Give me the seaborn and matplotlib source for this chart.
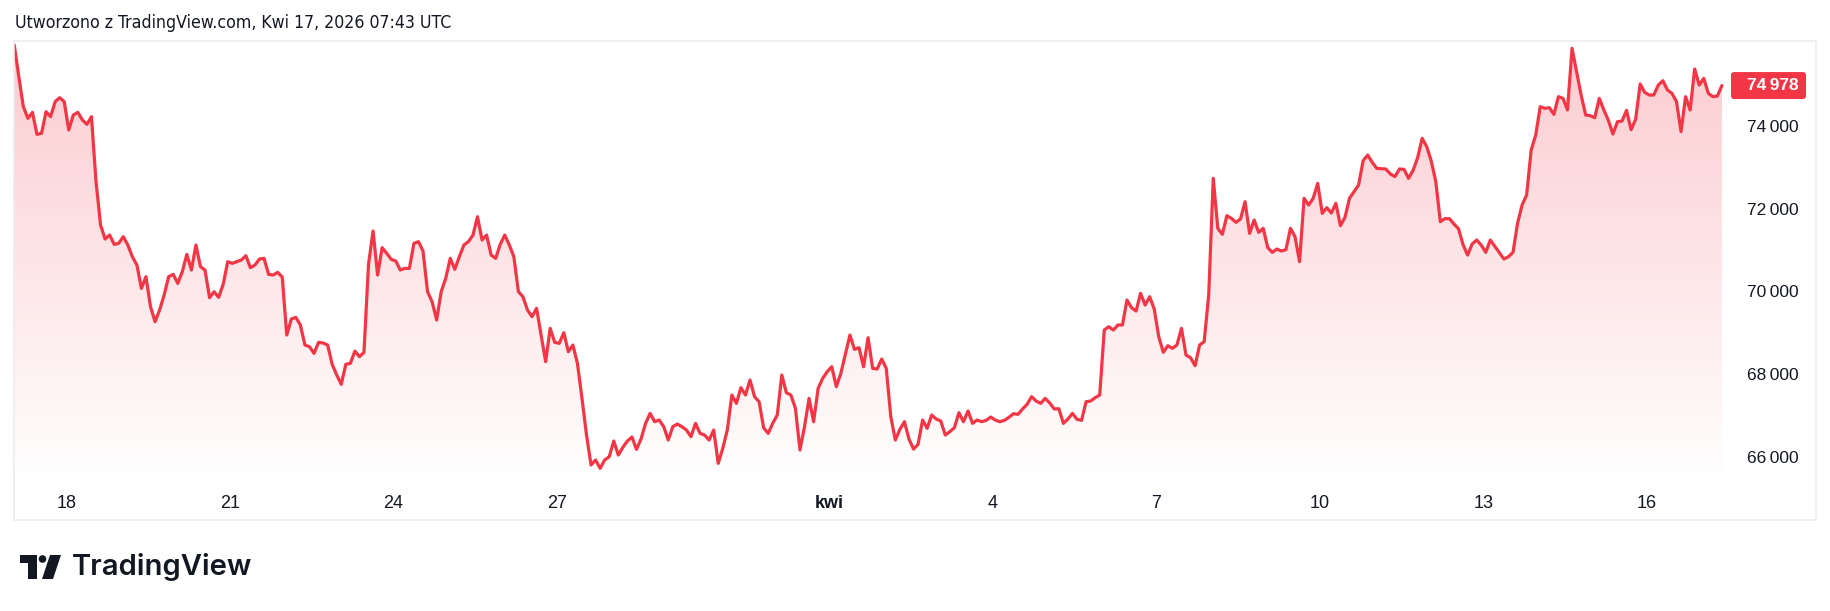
import numpy as np
import pandas as pd
import matplotlib
matplotlib.use("Agg")
import matplotlib.pyplot as plt
import seaborn as sns
from matplotlib.colors import to_rgb
from matplotlib.patches import Rectangle, PathPatch, Polygon, Circle, FancyBboxPatch
from matplotlib import font_manager

# ---------------- data (BTC price, 2-hour samples) ----------------
prices = [
    75958, 75192, 74467, 74185, 74330, 73798, 73822, 74346, 74225, 74588,
    74685, 74588, 73903, 74266, 74330, 74145, 74040, 74225, 72654, 71606,
    71267, 71364, 71138, 71163, 71324, 71122, 70840, 70639, 70074, 70356,
    69631, 69268, 69551, 69913, 70356, 70413, 70195, 70477, 70897, 70518,
    71122, 70598, 70518, 69849, 69994, 69857, 70171, 70719, 70679, 70719,
    70760, 70864, 70574, 70639, 70784,
    70800, 70413, 70397, 70461, 70349, 68946, 69333, 69373, 69188, 68704,
    68664, 68503, 68769, 68753, 68704, 68237, 67979, 67753, 68237, 68261,
    68559, 68422, 68527, 70655, 71461, 70397, 71058, 70921, 70776, 70735,
    70518, 70558, 70558, 71163, 71203, 70977, 69994, 69752, 69309, 69994,
    70316, 70800, 70534, 70840, 71122, 71203, 71364, 71807, 71243, 71364,
    70880, 70800, 71138, 71364,
    71122, 70840, 69994, 69873, 69551, 69389, 69591, 68946, 68301, 69107,
    68769, 68745, 69002, 68543, 68704, 68261, 67415, 66528, 65803, 65924,
    65722, 65924, 66004, 66383, 66044, 66230, 66383, 66480, 66181, 66431,
    66810, 67052, 66850, 66891, 66730, 66407, 66730, 66794, 66730, 66649,
    66488, 66810, 66568, 66528, 66407, 66649, 65843, 66206, 66649, 67495,
    67294, 67673, 67495,
    67858, 67455, 67334, 66705, 66568, 66810, 67012, 67979, 67552, 67495,
    67173, 66165, 66730, 67415, 66850, 67656, 67898, 68059, 68180, 67697,
    68019, 68478, 68946, 68599, 68640, 68180, 68882, 68140, 68124, 68366,
    68140, 66971, 66407, 66665, 66850, 66431, 66189, 66302, 66891, 66689,
    67012, 66915, 66867, 66528, 66609, 66705, 67068, 66850, 67108, 66810,
    66891, 66850, 66883, 66963,
    66891, 66850, 66883, 66955, 67044, 67028, 67157, 67269, 67455, 67350,
    67294, 67415, 67302, 67157, 67165, 66810, 66915, 67052, 66907, 66883,
    67334, 67350, 67431, 67495, 69067, 69147, 69067, 69188, 69188, 69792,
    69607, 69526, 69954, 69671, 69873, 69575, 68906, 68527, 68688, 68624,
    68704, 69107, 68462, 68398, 68204, 68704, 68785, 69913, 72734, 71525,
    71380, 71832, 71767, 71670,
    71751, 72170, 71404, 71727, 71428, 71525, 71058, 70945, 71026, 70977,
    71009, 71525, 71324, 70719, 72251, 72089, 72251, 72613, 71888, 72025,
    71896, 72130, 71590, 71791, 72251, 72412, 72573, 73161, 73298, 73121,
    72976, 72968, 72960, 72839, 72775, 72960, 72952, 72734, 72928, 73234,
    73701, 73500, 73153, 72654, 71686, 71759, 71759, 71630, 71517, 71130,
    70880, 71146, 71243, 71122,
    70945, 71243, 71090, 70937, 70784, 70840, 70945, 71646, 72089, 72331,
    73419, 73782, 74467, 74427, 74443, 74282, 74709, 74669, 74387, 75878,
    75313, 74749, 74266, 74249, 74201, 74669, 74387, 74137, 73806, 74104,
    74120, 74378, 73911, 74161, 75015, 74814, 74749, 74749, 74991, 75096,
    74870, 74790, 74588, 73863, 74709, 74387, 75378, 74991, 75152, 74790,
    74709, 74725, 74978,
]
start_time = "2026-03-17 01:00"
sample_freq = "2h"
tick_dates = ["2026-03-18", "2026-03-21", "2026-03-24", "2026-03-27", "2026-04-01",
              "2026-04-04", "2026-04-07", "2026-04-10", "2026-04-13", "2026-04-16"]
tick_labels = ["18", "21", "24", "27", "kwi", "4", "7", "10", "13", "16"]
price_ticks = [66000, 68000, 70000, 72000, 74000]
title_text = "Utworzono z TradingView.com, Kwi 17, 2026 07:43 UTC"

# ---------------- prepare ----------------
origin = pd.Timestamp("2026-03-18")
times = pd.date_range(start_time, periods=len(prices), freq=sample_freq)
t_days = ((times - origin) / pd.Timedelta(days=1)).to_numpy()
df = pd.DataFrame({"t": t_days, "price": prices})
tick_pos = ((pd.to_datetime(tick_dates) - origin) / pd.Timedelta(days=1)).to_numpy()
last_price = prices[-1]

def fmt(v):
    return f"{v // 1000}\u2009{v % 1000:03d}"

fonts = font_manager.fontManager.ttflist
installed = {f.name for f in fonts}
NARROW = "Liberation Sans Narrow" if "Liberation Sans Narrow" in installed else "Liberation Sans"
has_condensed = any(f.name == "DejaVu Sans" and f.stretch == "condensed" for f in fonts)

RED = "#F23645"
TXT = "#131722"
W, H = 1830, 611

sns.set_theme(style="white")
plt.rcParams["font.family"] = ["Liberation Sans", "DejaVu Sans"]

fig = plt.figure(figsize=(W / 100, H / 100), dpi=100)
fig.patch.set_facecolor("white")

# pane: x 14..1735 px, y 41..484 px
ax_l, ax_r, ax_t, ax_b = 14, 1735, 41, 484
ax = fig.add_axes([ax_l / W, 1 - ax_b / H, (ax_r - ax_l) / W, (ax_b - ax_t) / H])
ax.set_facecolor("none")

sns.lineplot(data=df, x="t", y="price", ax=ax, color=RED, linewidth=2.3, zorder=3)

xlim = (-0.9633, 30.615)
ylim = (65344, 76055)

# gradient area under the line
poly = ax.fill_between(df["t"], df["price"], ylim[0], facecolor="none", edgecolor="none")
clip = PathPatch(poly.get_paths()[0], transform=ax.transData, facecolor="none", edgecolor="none")
ax.add_patch(clip)
grad = np.zeros((256, 1, 4))
grad[..., :3] = to_rgb(RED)
grad[..., 3] = np.linspace(0.26, 0.0, 256)[:, None]
im = ax.imshow(grad, extent=[df["t"].iloc[0], df["t"].iloc[-1], ylim[0], ylim[1]],
               aspect="auto", origin="upper", zorder=1, interpolation="bilinear")
im.set_clip_path(clip)

ax.set_xlim(*xlim)
ax.set_ylim(*ylim)
ax.set_xlabel("")
ax.set_ylabel("")
for s in ax.spines.values():
    s.set_visible(False)
ax.grid(False)

ax.yaxis.tick_right()
ax.set_yticks(price_ticks)
ax.set_yticklabels([fmt(v) for v in price_ticks])
ax.tick_params(axis="y", length=0, pad=12 * 0.72, labelsize=12.5, labelcolor=TXT)

ax.set_xticks(tick_pos)
ax.set_xticklabels(tick_labels)
ax.tick_params(axis="x", length=0, pad=11 * 0.72, labelsize=12.5, labelcolor=TXT)
for lbl in ax.get_xticklabels():
    lbl.set_family([NARROW, "DejaVu Sans"])
    lbl.set_fontsize(13)
    if lbl.get_text() == "kwi":
        lbl.set_fontweight("bold")

# overlay in pixel coordinates for frame, tag, title and logo
lax = fig.add_axes([0, 0, 1, 1])
lax.set_xlim(0, W)
lax.set_ylim(H, 0)
lax.axis("off")
lax.patch.set_alpha(0)
lax.add_patch(Rectangle((14, 41), 1802, 479, fill=False, edgecolor="#ebebee", linewidth=1.1))

# last price tag, placed at the data value of the last price
fig.canvas.draw()
tag_y = H - ax.transData.transform((0, last_price))[1]
lax.add_patch(FancyBboxPatch((1731, tag_y - 13.5), 75, 27,
                             boxstyle="round,pad=0,rounding_size=3",
                             facecolor=RED, edgecolor="none", zorder=5))
lax.text(1747, tag_y, fmt(last_price), ha="left", va="center", color="white",
         fontsize=12.5, fontweight="bold", zorder=6)

if has_condensed:
    lax.text(15, 23, title_text, ha="left", va="center", color=TXT,
             fontsize=12.7, family=["DejaVu Sans"], fontstretch="condensed")
else:
    lax.text(15, 23, title_text, ha="left", va="center", color=TXT,
             fontsize=11.6, family=["DejaVu Sans"])
logo = lax.text(72, 567, "TradingView", ha="left", va="center", color=TXT,
                fontsize=20, family=["Inter", "DejaVu Sans"], fontweight="semibold")

renderer = fig.canvas.get_renderer()
bb = logo.get_window_extent(renderer)
logo.set_fontsize(logo.get_fontsize() * 181 / bb.width)

lax.add_patch(Polygon([(20, 555), (37, 555), (37, 579), (28, 579), (28, 563), (20, 563)],
                      closed=True, facecolor=TXT, edgecolor="none"))
lax.add_patch(Circle((42.5, 559), 3.8, facecolor=TXT, edgecolor="none"))
lax.add_patch(Polygon([(50, 555), (61, 555), (53, 579), (42, 579)],
                      closed=True, facecolor=TXT, edgecolor="none"))

fig.savefig("out.png", dpi=100, facecolor="white")
